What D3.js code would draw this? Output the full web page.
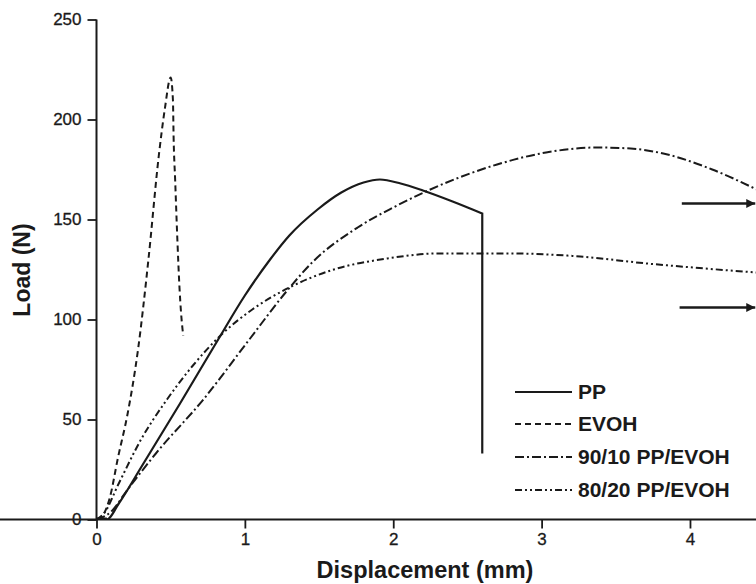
<!DOCTYPE html>
<html><head><meta charset="utf-8">
<script src="https://cdn.jsdelivr.net/npm/d3@7"></script>
<style>body{margin:0;background:#fff}svg{display:block;font-family:"Liberation Sans",Arial,sans-serif}</style>
</head><body><svg id="c" width="756" height="584"></svg>
<script>
const xTicks = [0,1,2,3,4];
const yTicks = [0,50,100,150,200,250];
const seriesNames = ["PP","EVOH","90/10 PP/EVOH","80/20 PP/EVOH"];
const ppData = [[0,0],[0.07,0],[0.15,8],[0.3,26],[0.563,58],[0.82,90],[1.0,112],[1.17,130],[1.3,142],[1.49,155],[1.65,163.5],[1.8,168.5],[1.91,170],[2.05,168],[2.2,164.5],[2.4,159],[2.6,153],[2.6,33]];
const evohData = [[0,0],[0.05,3],[0.09,11],[0.145,31],[0.21,53],[0.28,85],[0.35,130],[0.42,182],[0.46,205],[0.5,221],[0.515,210],[0.52,190],[0.53,170],[0.545,140],[0.56,115],[0.58,95],[0.585,92]];
const pe9010Data = [[0,0],[0.1,4],[0.2,14],[0.4,33],[0.72,60],[1.03,90],[1.28,114],[1.46,129],[1.76,146],[2.0,156],[2.25,165],[2.7,177.5],[3.03,183.5],[3.37,186],[3.6,185.5],[3.82,183],[4.15,175],[4.45,165]];
const pe8020Data = [[0,0],[0.05,3],[0.15,18],[0.3,40],[0.475,60],[0.65,77],[0.85,93],[1.05,105],[1.3,116],[1.6,125],[1.96,130.5],[2.3,133],[2.8,133],[3.26,131.5],[3.71,128],[4.1,125.5],[4.45,123.5]];
const arrows = [[3.945,4.44,158],[3.93,4.44,106]];

const svg = d3.select("#c");
const x = d3.scaleLinear().domain([0,4.445]).range([96.5,756]);
const y = d3.scaleLinear().domain([0,250]).range([519.5,19.5]);
const ink = "#1a1a1a";

const xa = svg.append("g").attr("transform","translate(0,519.5)")
  .call(d3.axisBottom(x).tickValues(xTicks).tickFormat(d3.format("d")).tickSize(9).tickPadding(4));
const ya = svg.append("g").attr("transform","translate(96.5,0)")
  .call(d3.axisLeft(y).tickValues(yTicks).tickSize(9).tickPadding(6));
[xa,ya].forEach(a=>{
  a.select(".domain").attr("stroke",ink).attr("stroke-width",2);
  a.selectAll(".tick line").attr("stroke",ink).attr("stroke-width",1.8);
  a.selectAll(".tick text").attr("fill",ink).attr("font-size",17).attr("stroke",ink).attr("stroke-width",0.3)
    .attr("font-family","Liberation Sans, Arial, sans-serif");
});
ya.select(".domain").attr("d","M0,519.5V19.5");
xa.select(".domain").attr("d","M0,0H756");

svg.append("text").attr("x",425).attr("y",578).attr("text-anchor","middle")
  .attr("font-size",23.5).attr("font-weight","bold").attr("fill",ink).text("Displacement (mm)");
svg.append("text").attr("transform","translate(30,270) rotate(-90)").attr("text-anchor","middle")
  .attr("font-size",23).attr("font-weight","bold").attr("fill",ink).text("Load (N)");

const dashes = [null,"6,4","9,3,2,3","7,3,2,3,2,3"];
const datas = [ppData,evohData,pe9010Data,pe8020Data];
const smooth = d3.line().x(d=>x(d[0])).y(d=>y(d[1])).curve(d3.curveMonotoneX);
const pathFor = d=>{
  const n = d.length;
  if (n>1 && d[n-1][0]===d[n-2][0]) return smooth(d.slice(0,n-1)) + `L${x(d[n-1][0])},${y(d[n-1][1])}`;
  return smooth(d);
};
svg.append("clipPath").attr("id","cp").append("rect").attr("x",96).attr("y",0).attr("width",660).attr("height",520);
const plot = svg.append("g").attr("clip-path","url(#cp)");
datas.forEach((d,i)=>{
  plot.append("path").attr("d",pathFor(d)).attr("fill","none").attr("stroke",ink)
    .attr("stroke-width",i===0?2.2:2).attr("stroke-dasharray",dashes[i]);
});
plot.append("path").attr("d",`M${x(0)},${y(0)}H${x(0.07)}`).attr("stroke",ink).attr("stroke-width",4);

svg.append("defs").append("marker").attr("id","ah").attr("viewBox","0 0 10 10").attr("refX",10).attr("refY",5)
  .attr("markerWidth",11).attr("markerHeight",9).attr("markerUnits","userSpaceOnUse").attr("orient","auto")
  .append("path").attr("d","M0,0L10,5L0,10Z").attr("fill",ink);
arrows.forEach(a=>{
  svg.append("line").attr("x1",x(a[0])).attr("x2",x(a[1])).attr("y1",y(a[2])).attr("y2",y(a[2]))
    .attr("stroke",ink).attr("stroke-width",2.4).attr("marker-end","url(#ah)");
});

const lg = svg.append("g");
const ly = [392,424,457,490];
seriesNames.forEach((n,i)=>{
  lg.append("line").attr("x1",515).attr("x2",572).attr("y1",ly[i]).attr("y2",ly[i])
    .attr("stroke",ink).attr("stroke-width",2).attr("stroke-dasharray",dashes[i]);
  lg.append("text").attr("x",578).attr("y",ly[i]+7).attr("font-size",21).attr("font-weight","bold")
    .attr("fill",ink).text(n);
});
</script></body></html>
